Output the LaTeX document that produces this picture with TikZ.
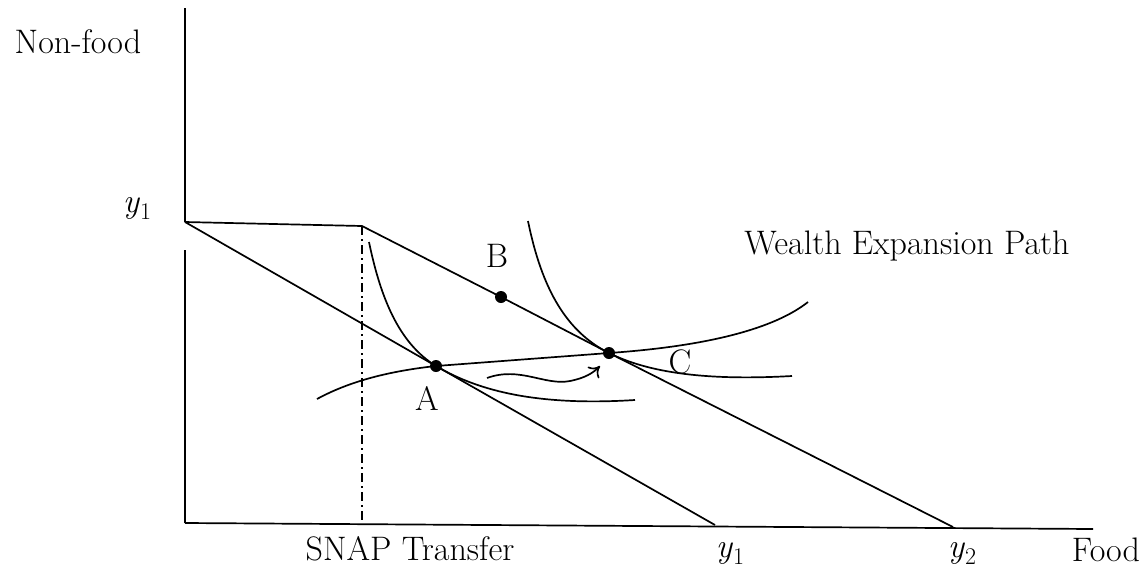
\documentclass[tikz,border=0pt]{standalone}
\usepackage{fontspec}
\usetikzlibrary{arrows.meta}
\newcommand{\ysub}[1]{{\itshape y}\kern1pt\raisebox{-7pt}{\fontsize{24}{24}\selectfont #1}}
\begin{document}
\begin{tikzpicture}[x=1pt,y=-1pt,
  ln/.style={line width=1.7pt,black},
  lbl/.style={font=\fontsize{34}{40}\selectfont,inner sep=0pt},
  dot/.style={circle,fill=black,inner sep=0pt,minimum size=12pt}]
\useasboundingbox (0,0) rectangle (1148,571);
% coordinates
\coordinate (ytop) at (185,8);
\coordinate (yone) at (185,222);
\coordinate (ygap) at (185,250);
\coordinate (O) at (185,523);
\coordinate (xend) at (1093,529);
\coordinate (kink) at (362,226);
\coordinate (kinkb) at (362,524);
\coordinate (xone) at (715,525);
\coordinate (xtwo) at (953,527);
\coordinate (i1s) at (369,242);
\coordinate (i1e) at (635,400);
\coordinate (i2s) at (528,221);
\coordinate (i2e) at (792,376);
\coordinate (ws) at (317,399);
\coordinate (we) at (808,302);
\coordinate (as) at (487,378);
\coordinate (ae) at (600,366);
% points
\node[dot] (A) at (436,366) {};
\node[dot] (B) at (501,297) {};
\node[dot] (C) at (609,353) {};
% axes
\draw[ln] (ytop) -- (yone);
\draw[ln] (ygap) -- (O);
\draw[ln] (O) -- (xend);
% budget lines
\draw[ln] (yone) -- (A.center) -- (xone);
\draw[ln] (yone) -- (kink) -- (B.center) -- (C.center) -- (xtwo);
\draw[line width=1.5pt,dash pattern=on 9pt off 4pt on 2pt off 4pt] (kink) -- (kinkb);
% indifference curves
\draw[ln] (i1s) .. controls (382,305) and (402,345) .. (A.center)
  .. controls (480,392) and (540,406) .. (i1e);
\draw[ln] (i2s) .. controls (542,290) and (567,332) .. (C.center)
  .. controls (655,376) and (720,380) .. (i2e);
% wealth expansion path
\draw[ln] (ws) .. controls (350,381) and (390,371) .. (A.center) -- (C.center)
  .. controls (710,346) and (775,328) .. (we);
% wavy arrow
\draw[ln,-{To[length=10pt,width=16pt]}] (as) .. controls (520,366) and (545,386) .. (570,381)
  .. controls (585,378) and (593,373) .. (ae);
% labels
\node[lbl] (tnf) at (78,42) {Non-food};
\node[lbl] (ty1) at (137,208) {\ysub{1}};
\node[lbl] (tB) at (497,256) {B};
\node[lbl] (tW) at (907,246) {Wealth Expansion Path};
\node[lbl] (tC) at (680,362) {C};
\node[lbl] (tA) at (427,398) {A};
\node[lbl] (tS) at (410,549) {SNAP Transfer};
\node[lbl] (tx1) at (730,553) {\ysub{1}};
\node[lbl] (tx2) at (962,553) {\ysub{2}};
\node[lbl] (tF) at (1106,550) {Food};
\end{tikzpicture}
\end{document}
